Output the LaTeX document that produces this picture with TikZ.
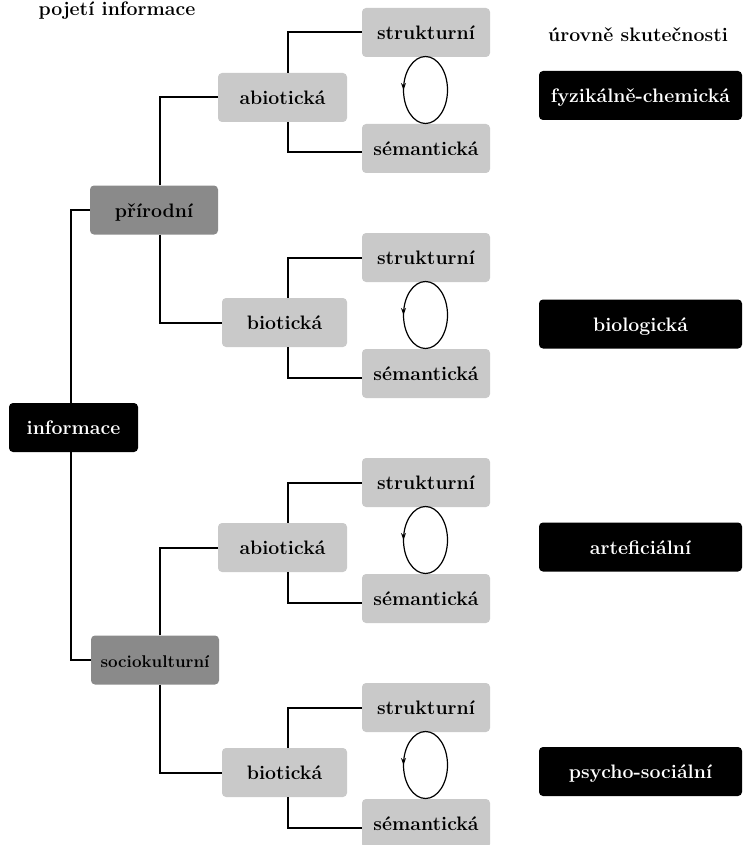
\documentclass[tikz,border=0pt]{standalone}
\usepackage{fontspec}
\usetikzlibrary{decorations.markings,arrows.meta}
\definecolor{lightbox}{HTML}{C9C9C9}
\definecolor{darkbox}{HTML}{8A8A8A}
\begin{document}
\begin{tikzpicture}[x=1pt,y=1pt,
  box/.style={rounded corners=4pt, minimum height=49pt, inner sep=0pt,
    font=\fontsize{19.5}{22}\selectfont\bfseries, text height=16pt, text depth=2pt},
  lbox/.style={box, fill=lightbox, minimum width=128pt},
  dbox/.style={box, fill=darkbox, minimum width=128pt},
  bbox/.style={box, fill=black, text=white, minimum width=203pt},
  conn/.style={line width=2pt},
  loopline/.style={line width=1.2pt, postaction={decorate},
    decoration={markings, mark=at position 0.25 with {\arrow{Stealth[length=7pt,width=5pt]}}}},
  heading/.style={font=\fontsize{19.5}{22}\selectfont\bfseries, anchor=base, inner sep=0pt}]
\useasboundingbox (0,0) rectangle (742,-845);
\coordinate (xa) at (288,0);
\coordinate (xb) at (160,0);
\coordinate (xc) at (71,0);

\node[heading] (t1) at (117,-15.5) {pojetí informace};
\node[heading] (t2) at (638,-42) {úrovně skutečnosti};

\foreach \k/\mlab/\mw/\mx/\blab/\by in {
  0/abiotická/129/282.5/fyzikálně-chemická/95.5,
  1/biotická/125/284.5/biologická/324,
  2/abiotická/129/282.5/arteficiální/547,
  3/biotická/125/284.5/psycho-sociální/771.5}{
  \pgfmathsetmacro\off{225*\k}
  \node[lbox] (str\k) at (426,{-32.5-\off}) {strukturní};
  \node[lbox, minimum width=\mw pt] (mid\k) at (\mx,{-97.5-\off}) {\mlab};
  \node[lbox] (sem\k) at (426,{-148.5-\off}) {sémantická};
  \node[bbox] (blk\k) at (640.5,-\by) {\blab};
  \draw[conn] (mid\k.north -| xa) |- (str\k.west);
  \draw[conn] (mid\k.south -| xa) |- ([yshift=-4pt]sem\k.west);
  \draw[loopline] (425.5,{-56.5-\off}) arc[start angle=90, end angle=450, x radius=22, y radius=33.5];
}

\node[dbox] (prir) at (154,-210) {přírodní};
\node[dbox, font=\fontsize{17}{20}\selectfont\bfseries] (soc) at (155,-660) {sociokulturní};
\node[box, fill=black, text=white, minimum width=129pt] (inf) at (73.5,-427.5) {informace};

\draw[conn] (inf.north -| xc) |- (prir.west);
\draw[conn] (inf.south -| xc) |- (soc.west);
\draw[conn] (prir.north -| xb) |- (mid0.west);
\draw[conn] (prir.south -| xb) |- (mid1.west);
\draw[conn] (soc.north -| xb) |- (mid2.west);
\draw[conn] (soc.south -| xb) |- (mid3.west);
\end{tikzpicture}
\end{document}
